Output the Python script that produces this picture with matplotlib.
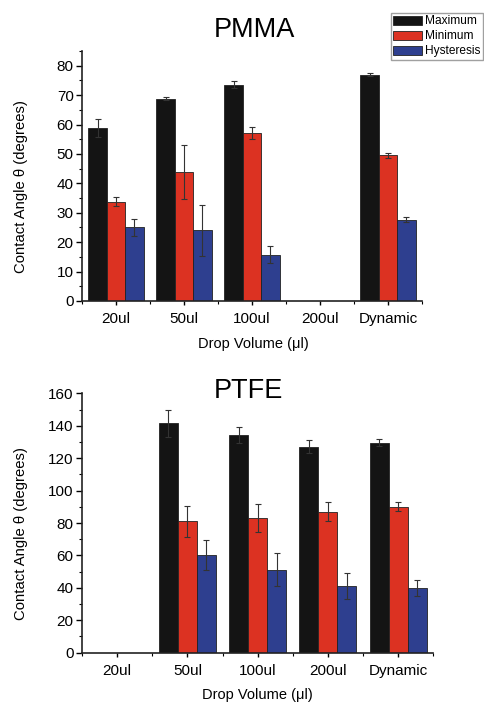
import numpy as np
import matplotlib
matplotlib.use("Agg")
import matplotlib.pyplot as plt
from matplotlib.patches import Patch
from matplotlib.ticker import MultipleLocator, FixedLocator

plt.rcParams['font.family'] = ['Liberation Sans', 'DejaVu Sans']

categories = ["20ul", "50ul", "100ul", "200ul", "Dynamic"]
series = ["Maximum", "Minimum", "Hysteresis"]
colors = ["#141414", "#dc3222", "#2e3f8f"]

pmma_max = [58.8, 68.8, 73.6, np.nan, 77.0]
pmma_max_err = [3.0, 0.6, 1.3, np.nan, 0.6]
pmma_min = [33.8, 43.9, 57.2, np.nan, 49.5]
pmma_min_err = [1.4, 9.2, 2.0, np.nan, 0.8]
pmma_hys = [25.0, 24.0, 15.8, np.nan, 27.6]
pmma_hys_err = [3.0, 8.8, 3.0, np.nan, 0.9]

ptfe_max = [np.nan, 141.5, 134.3, 127.1, 129.4]
ptfe_max_err = [np.nan, 8.2, 5.0, 4.0, 2.2]
ptfe_min = [np.nan, 81.0, 83.1, 87.0, 90.1]
ptfe_min_err = [np.nan, 9.7, 8.6, 5.7, 2.6]
ptfe_hys = [np.nan, 60.3, 51.2, 41.1, 39.7]
ptfe_hys_err = [np.nan, 9.4, 10.3, 7.8, 4.9]

fig = plt.figure(figsize=(4.84, 7.02), dpi=100)
ax1 = fig.add_axes([82/484, 1-301/702, 340/484, 250/702])
ax2 = fig.add_axes([82/484, 1-652.7/702, 351.3/484, 259.4/702])

def draw(ax, vals, errs, ymax, major, minor):
    x = np.arange(len(categories)) + 0.5
    w = 0.27
    for i, (v, e) in enumerate(zip(vals, errs)):
        xi = x + (i - 1) * w
        v = np.array(v, dtype=float)
        e = np.array(e, dtype=float)
        m = ~np.isnan(v)
        ax.bar(xi[m], v[m], width=w, color=colors[i], edgecolor="#222222",
               linewidth=0.6, zorder=2)
        ax.errorbar(xi[m], v[m], yerr=e[m], fmt="none", ecolor="#333333",
                    elinewidth=0.8, capsize=2.5, capthick=0.8, zorder=3)
    ax.set_xlim(0, len(categories))
    ax.set_ylim(0, ymax)
    ax.set_xticks(x)
    ax.set_xticklabels(categories, fontsize=11)
    ax.xaxis.set_minor_locator(FixedLocator(np.arange(len(categories) + 1)))
    ax.yaxis.set_major_locator(MultipleLocator(major))
    ax.yaxis.set_minor_locator(MultipleLocator(minor))
    ax.tick_params(axis='y', labelsize=11, length=4, width=1, pad=2)
    ax.tick_params(axis='x', length=3, width=1, pad=5)
    ax.tick_params(which='minor', length=2.5, width=0.8)
    for s in ["top", "right"]:
        ax.spines[s].set_visible(False)
    for s in ["left", "bottom"]:
        ax.spines[s].set_linewidth(1.2)
        ax.spines[s].set_color("#222222")
    ax.set_ylabel("Contact Angle θ (degrees)", fontsize=10.7)
    ax.set_xlabel("Drop Volume (μl)", fontsize=10.5)

draw(ax1, [pmma_max, pmma_min, pmma_hys], [pmma_max_err, pmma_min_err, pmma_hys_err], 85, 10, 5)
ax1.set_yticks(np.arange(0, 81, 10))
ax1.yaxis.set_label_coords(-0.158, 0.456)
ax1.xaxis.set_label_coords(0.503, -0.143)

draw(ax2, [ptfe_max, ptfe_min, ptfe_hys], [ptfe_max_err, ptfe_min_err, ptfe_hys_err], 160, 20, 10)
ax2.yaxis.set_label_coords(-0.154, 0.46)
ax2.xaxis.set_label_coords(0.50, -0.137)

fig.text(254/484, 1-30/702, "PMMA", fontsize=19.5, ha="center", va="center")
fig.text(248/484, 1-391/702, "PTFE", fontsize=19.5, ha="center", va="center")

handles = [Patch(facecolor=c, edgecolor="#222222", linewidth=0.6) for c in colors]
leg = fig.legend(handles, series, loc="upper left", bbox_to_anchor=(391/484, 1-13/702),
                 fontsize=8.6, frameon=True, fancybox=False, borderpad=0.2,
                 handlelength=2.4, handleheight=0.8, handletextpad=0.25,
                 labelspacing=0.25, borderaxespad=0)
leg.get_frame().set_edgecolor("#888888")
leg.get_frame().set_linewidth(1.0)

fig.savefig("out.png", dpi=100)
